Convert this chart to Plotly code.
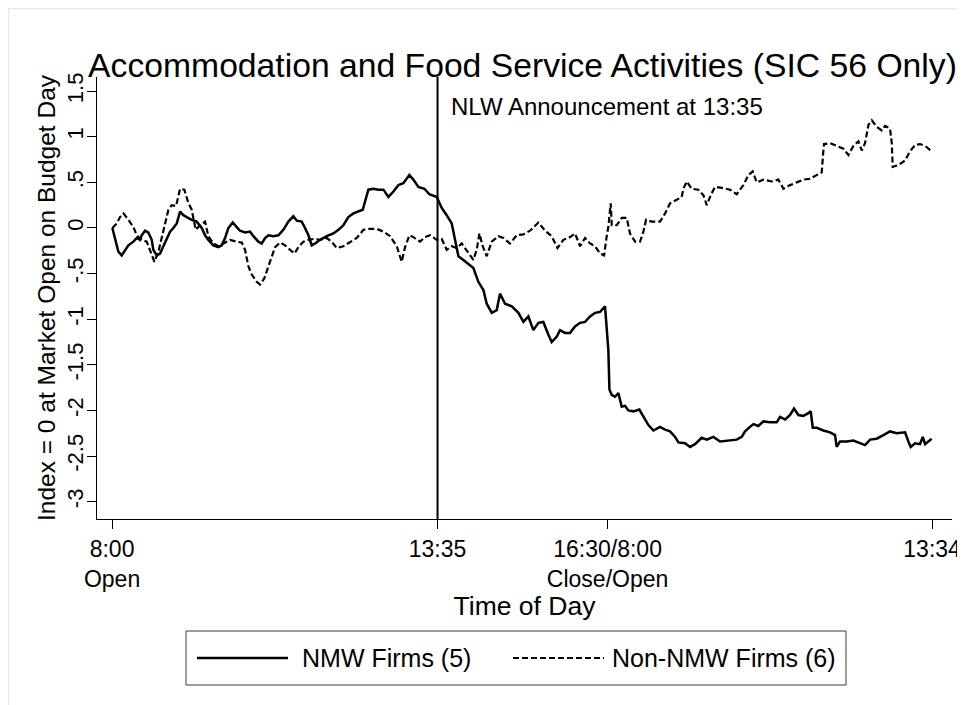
import plotly.graph_objects as go

# minutes of trading since 8:00 open on budget day (day 2 continues after 16:30 close)
nmw_minutes = [
    0.3, 3.1, 6.5, 9.9, 13.4, 16.8, 22.0, 25.4, 28.8, 30.5, 34.0, 37.4, 40.8, 42.5, 46.0, 49.4,
    52.8, 56.3, 59.7, 63.1, 66.6, 70.0, 73.4, 76.9, 82.0, 87.1, 92.3, 95.7, 99.1, 104.3, 109.4,
    112.9, 116.3, 119.7, 124.2, 128.3, 131.7, 136.9, 142.0, 145.5, 150.6, 154.0, 157.5, 160.9,
    166.0, 171.2, 176.3, 181.5, 186.6, 190.1, 195.2, 198.6, 202.1, 205.5, 208.9, 214.1, 220.9,
    227.8, 233.0, 238.1, 243.2, 248.4, 253.5, 258.0, 260.4, 263.8, 269.0, 274.1, 279.3, 284.4,
    289.6, 294.7, 299.8, 306.0, 310.1, 315.3, 321.5, 326.6, 334.2, 339.3, 344.4, 349.6, 353.0,
    356.5, 361.6, 366.7, 371.9, 377.0, 382.2, 385.6, 390.8, 395.9, 399.3, 404.5, 411.4, 418.2,
    423.4, 428.5, 433.6, 438.8, 443.9, 449.1, 452.5, 457.7, 461.1, 466.2, 471.4, 476.5, 481.7,
    486.8, 492.0, 497.1, 502.3, 507.4, 509.1, 510.8, 511.9, 514.3, 517.7, 521.1, 524.6, 528.0,
    531.4, 536.6, 542.7, 546.9, 552.0, 557.2, 564.0, 569.2, 574.3, 579.5, 582.9, 589.7, 594.9,
    600.0, 606.9, 612.1, 618.9, 625.8, 632.6, 642.9, 648.1, 651.5, 656.6, 660.1, 665.2, 670.4,
    677.2, 684.1, 687.5, 692.7, 697.8, 701.9, 706.4, 711.5, 716.7, 719.1, 721.2, 725.3, 732.1,
    739.0, 744.1, 745.8, 749.3, 756.1, 763.0, 769.9, 775.0, 780.2, 787.0, 793.9, 800.7, 807.6,
    816.2, 819.6, 822.0, 826.5, 831.6, 834.4, 836.8, 843.6,
]
nmw_index = [
    0.0, -0.13, -0.26, -0.30, -0.24, -0.19, -0.15, -0.11, -0.13, -0.08, -0.03, -0.05, -0.13, -0.24,
    -0.30, -0.28, -0.20, -0.11, -0.04, 0.0, 0.05, 0.18, 0.14, 0.12, 0.09, 0.07, 0.0, -0.08, -0.13,
    -0.19, -0.21, -0.19, -0.11, 0.0, 0.06, 0.01, -0.03, -0.05, -0.04, -0.09, -0.15, -0.17, -0.11,
    -0.08, -0.09, -0.08, -0.02, 0.07, 0.13, 0.08, 0.07, 0.0, -0.08, -0.19, -0.17, -0.13, -0.09,
    -0.06, -0.02, 0.03, 0.12, 0.16, 0.18, 0.20, 0.29, 0.42, 0.43, 0.42, 0.42, 0.34, 0.40, 0.47,
    0.49, 0.58, 0.53, 0.45, 0.43, 0.37, 0.34, 0.22, 0.14, 0.05, -0.13, -0.31, -0.35, -0.39, -0.44,
    -0.59, -0.68, -0.83, -0.93, -0.90, -0.72, -0.83, -0.86, -0.93, -1.03, -0.97, -1.12, -1.04,
    -1.03, -1.17, -1.25, -1.19, -1.12, -1.15, -1.15, -1.08, -1.04, -1.03, -0.97, -0.93, -0.92,
    -0.86, -1.08, -1.34, -1.77, -1.83, -1.85, -1.81, -1.96, -1.95, -2.00, -2.01, -1.99, -2.07,
    -2.16, -2.22, -2.18, -2.21, -2.23, -2.29, -2.35, -2.36, -2.40, -2.37, -2.30, -2.32, -2.29,
    -2.34, -2.33, -2.32, -2.29, -2.23, -2.18, -2.15, -2.17, -2.12, -2.13, -2.13, -2.07, -2.10,
    -2.05, -1.98, -2.05, -2.06, -2.03, -2.01, -2.19, -2.19, -2.22, -2.24, -2.27, -2.40, -2.34,
    -2.34, -2.33, -2.36, -2.38, -2.32, -2.31, -2.27, -2.23, -2.25, -2.24, -2.34, -2.40, -2.36,
    -2.37, -2.29, -2.37, -2.31,
]

non_nmw_minutes = [
    0.3, 4.8, 8.2, 11.7, 16.8, 22.0, 25.4, 30.5, 35.7, 39.1, 43.6, 47.7, 51.1, 54.5, 58.0, 61.4,
    65.9, 70.0, 74.4, 78.6, 82.0, 86.1, 90.6, 95.7, 99.1, 104.3, 109.4, 114.6, 121.4, 128.3,
    133.5, 136.9, 140.3, 143.8, 148.9, 152.3, 156.8, 160.9, 164.3, 167.8, 172.9, 178.1, 183.2,
    187.7, 191.8, 196.9, 202.1, 208.0, 214.1, 220.9, 226.1, 231.2, 238.1, 245.0, 251.8, 258.7,
    264.8, 272.4, 279.3, 286.1, 293.0, 298.1, 301.6, 306.0, 310.1, 317.0, 322.1, 327.3, 334.2,
    339.3, 344.4, 349.6, 354.7, 359.9, 366.7, 371.9, 375.3, 378.1, 381.5, 385.6, 390.8, 397.6,
    402.8, 409.6, 416.5, 423.4, 430.2, 438.8, 445.7, 452.5, 458.4, 464.5, 471.4, 476.5, 481.7,
    486.8, 492.0, 497.1, 502.3, 506.4, 509.1, 510.8, 513.2, 514.3, 519.4, 524.6, 529.7, 533.1,
    538.3, 543.4, 546.9, 549.6, 555.4, 564.0, 569.2, 574.3, 581.2, 586.3, 588.0, 591.5, 596.6,
    603.5, 608.6, 612.1, 616.2, 620.6, 627.5, 636.1, 642.9, 649.8, 654.9, 659.4, 663.5, 670.4,
    678.9, 685.8, 691.0, 697.8, 704.7, 711.5, 718.4, 725.3, 730.4, 732.1, 732.8, 739.0, 745.8,
    752.7, 757.9, 763.0, 768.2, 771.6, 775.0, 778.5, 781.9, 787.0, 792.2, 795.6, 800.7, 802.5,
    803.5, 809.3, 816.2, 821.3, 826.5, 831.6, 836.8, 842.6,
]
non_nmw_index = [
    0.0, 0.05, 0.12, 0.16, 0.09, 0.01, -0.08, -0.13, -0.15, -0.24, -0.37, -0.26, -0.11, 0.05, 0.20,
    0.25, 0.24, 0.43, 0.42, 0.27, 0.20, -0.02, 0.03, 0.07, -0.09, -0.17, -0.20, -0.17, -0.13,
    -0.15, -0.16, -0.24, -0.42, -0.51, -0.59, -0.62, -0.55, -0.42, -0.31, -0.21, -0.16, -0.19,
    -0.24, -0.28, -0.21, -0.15, -0.13, -0.12, -0.13, -0.11, -0.15, -0.22, -0.20, -0.15, -0.11,
    -0.02, -0.01, -0.01, -0.04, -0.09, -0.20, -0.37, -0.21, -0.08, -0.10, -0.15, -0.10, -0.08,
    -0.13, -0.12, -0.24, -0.20, -0.22, -0.17, -0.28, -0.35, -0.24, -0.06, -0.20, -0.31, -0.15,
    -0.09, -0.11, -0.17, -0.08, -0.07, -0.03, 0.06, -0.03, -0.09, -0.22, -0.13, -0.10, -0.06,
    -0.20, -0.11, -0.17, -0.20, -0.28, -0.30, -0.09, 0.01, 0.27, 0.03, 0.03, 0.11, 0.11, -0.06,
    -0.15, -0.15, -0.04, 0.09, 0.07, 0.07, 0.16, 0.27, 0.31, 0.34, 0.43, 0.51, 0.43, 0.42, 0.36,
    0.25, 0.36, 0.45, 0.44, 0.42, 0.37, 0.47, 0.58, 0.62, 0.50, 0.53, 0.51, 0.53, 0.43, 0.47,
    0.50, 0.53, 0.54, 0.58, 0.61, 0.85, 0.92, 0.93, 0.90, 0.87, 0.80, 0.90, 0.95, 0.85, 0.93,
    1.13, 1.18, 1.11, 1.07, 1.12, 1.09, 0.93, 0.67, 0.69, 0.74, 0.84, 0.91, 0.92, 0.90, 0.85,
]

x_tick_vals = [0, 335, 510, 844]
x_tick_text = ["8:00<br>Open", "13:35", "16:30/8:00<br>Close/Open", "13:34"]
y_tick_vals = [-3, -2.5, -2, -1.5, -1, -0.5, 0, 0.5, 1, 1.5]
y_tick_text = ["-3", "-2.5", "-2", "-1.5", "-1", "-.5", "0", ".5", "1", "1.5"]
announcement_minute = 335
series_names = ["NMW Firms (5)", "Non-NMW Firms (6)"]

FONT = "Liberation Sans, Arial, sans-serif"
# the page puts the figure 8px in from the top-left corner
OFF = 8
W, H = 965 - OFF, 705 - OFF
M_L, M_R, M_T, M_B = 97 - OFF, 13, 77 - OFF, 186
PLOT_W = W - M_L - M_R
PLOT_H = H - M_T - M_B


def px_x(px):
    """Page pixel -> paper x."""
    return (px - OFF - M_L) / PLOT_W


def px_y(py):
    """Page pixel -> paper y."""
    return (H - M_B - (py - OFF)) / PLOT_H


solid = dict(color="black", width=2.5)
dashed = dict(color="black", width=2.2, dash="6px,3px")

fig = go.Figure()
fig.add_trace(go.Scatter(x=nmw_minutes, y=nmw_index, mode="lines", name=series_names[0], line=solid))
fig.add_trace(go.Scatter(x=non_nmw_minutes, y=non_nmw_index, mode="lines", name=series_names[1], line=dashed))

fig.add_shape(
    type="line", xref="x", yref="paper", x0=announcement_minute, x1=announcement_minute,
    y0=0, y1=1, line=dict(color="black", width=2),
)
fig.add_annotation(
    x=announcement_minute, y=1.33, xref="x", yref="y", xanchor="left", xshift=11,
    text="NLW Announcement at 13:35", showarrow=False, font=dict(size=24, color="black", family=FONT),
)
# faint outer frame of the graph region
fig.add_shape(
    type="rect", xref="paper", yref="paper", x0=px_x(8.5), x1=px_x(990), y0=px_y(730), y1=px_y(8.5),
    line=dict(color="#e3e9ec", width=1.5), layer="below",
)

# legend drawn Stata-style: framed box, long keys
fig.add_shape(
    type="rect", xref="paper", yref="paper", x0=px_x(186), x1=px_x(846), y0=px_y(685), y1=px_y(631),
    line=dict(color="#3c3c3c", width=1), fillcolor="white",
)
key_y = px_y(658)
fig.add_shape(type="line", xref="paper", yref="paper", x0=px_x(197), x1=px_x(288), y0=key_y, y1=key_y, line=solid)
fig.add_shape(type="line", xref="paper", yref="paper", x0=px_x(513), x1=px_x(604), y0=key_y, y1=key_y, line=dashed)
for name, left in zip(series_names, [300, 610]):
    fig.add_annotation(
        x=px_x(left), y=key_y, xref="paper", yref="paper", xanchor="left", yanchor="middle",
        text=name, showarrow=False, font=dict(size=25, color="black", family=FONT),
    )

fig.update_layout(
    width=W,
    height=H,
    margin=dict(l=M_L, r=M_R, t=M_T, b=M_B),
    paper_bgcolor="white",
    plot_bgcolor="white",
    font=dict(family=FONT, color="black", size=22),
    showlegend=False,
    title=dict(
        text="Accommodation and Food Service Activities (SIC 56 Only)",
        x=px_x(522.5), xref="paper", y=1 - (65 - OFF) / H, yref="container",
        yanchor="middle", xanchor="center",
        font=dict(size=33.7, family=FONT, color="black"),
    ),
    xaxis=dict(
        range=[-15.5, 864.5], tickvals=x_tick_vals, ticktext=x_tick_text, automargin=False,
        showline=True, linecolor="black", linewidth=1, ticks="outside", ticklen=9,
        tickcolor="black", showgrid=False, zeroline=False, tickfont=dict(size=23),
        title=dict(text="Time of Day", font=dict(size=26.5), standoff=0),
    ),
    yaxis=dict(
        range=[-3.19, 1.655], tickvals=y_tick_vals, ticktext=y_tick_text, tickangle=-90,
        automargin=False, ticklabelstandoff=-5,
        showline=True, linecolor="black", linewidth=1, ticks="outside", ticklen=9,
        tickcolor="black", showgrid=False, zeroline=False, tickfont=dict(size=22),
        title=dict(text="Index = 0 at Market Open on Budget Day", font=dict(size=24.5), standoff=0),
    ),
)

fig.write_html("out.html")
